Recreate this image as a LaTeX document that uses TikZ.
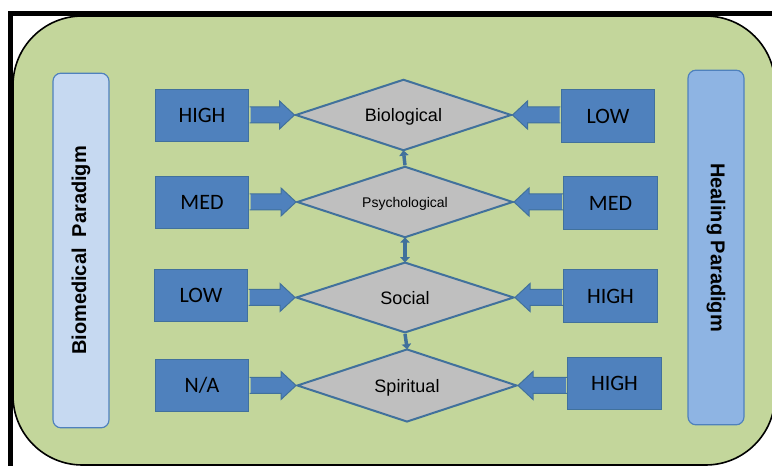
\documentclass[tikz,border=0pt]{standalone}
\usepackage{fontspec}
\setmainfont{Liberation Sans}
\newfontfamily\boxfont{Carlito}
\usepackage{tikz}
\usetikzlibrary{arrows.meta, shapes.geometric, calc}

\definecolor{paneGreen}{HTML}{C3D69B}
\definecolor{boxBlue}{HTML}{4F81BD}
\definecolor{lineBlue}{HTML}{41719C}
\definecolor{stageGray}{HTML}{BFBFBF}
\definecolor{barLight}{HTML}{C6D9F1}
\definecolor{barDark}{HTML}{8EB4E3}

% block arrow from a level box (#1) to the tip of a stage (#2)
\newcommand{\blockarr}[2]{%
  \fill[boxBlue] let \p1=(#1), \p2=(#2), \n1={sign(\x1-\x2)} in
    (\x1-\n1*1pt,\y2+6pt) -- (\x2+\n1*11.25pt,\y2+6pt) -- (\x2+\n1*11.25pt,\y2+10.5pt)
    -- (\x2,\y2) -- (\x2+\n1*11.25pt,\y2-10.5pt) -- (\x2+\n1*11.25pt,\y2-6pt)
    -- (\x1-\n1*1pt,\y2-6pt) -- cycle;
  \draw[barr] let \p1=(#1), \p2=(#2), \n1={sign(\x1-\x2)} in
    (\x1-\n1*0.4pt,\y2+6pt) -- (\x2+\n1*11.25pt,\y2+6pt) -- (\x2+\n1*11.25pt,\y2+10.5pt)
    -- (\x2,\y2) -- (\x2+\n1*11.25pt,\y2-10.5pt) -- (\x2+\n1*11.25pt,\y2-6pt)
    -- (\x1-\n1*0.4pt,\y2-6pt);
}

\begin{document}
\begin{tikzpicture}[
  x=0.75pt, y=-0.75pt,
  lvl/.style      = {draw=lineBlue, fill=boxBlue, line width=0.75pt,
                     minimum width=70pt, minimum height=39.5pt, inner sep=0pt,
                     font=\boxfont\fontsize{16.5}{18}\selectfont},
  stage/.style    = {diamond, aspect=3, draw=lineBlue, fill=stageGray, line width=1.5pt,
                     inner sep=0pt, text depth=0pt, minimum width=162pt, minimum height=53.5pt,
                     font=\fontsize{13.5}{15}\selectfont},
  paradigm/.style = {draw=boxBlue, line width=0.9pt, rounded corners=6pt,
                     minimum width=266pt, minimum height=42pt, inner sep=0pt,
                     font=\bfseries\fontsize{15}{17}\selectfont},
  barr/.style     = {draw=lineBlue, line width=0.75pt, line join=miter},
  link/.style     = {draw=lineBlue, line width=2.6pt,
                     -{Triangle[length=4pt, width=7pt]}, shorten >=-1pt},
]
\useasboundingbox (0,0) rectangle (772,466);

%% frame and green pane
\draw[line width=3.75pt] (10.5,470) |- (780,13.5);
\draw[fill=paneGreen, line width=1.2pt, rounded corners=52pt] (13,16) rectangle (775,465);

%% paradigm bars
\node[paradigm, fill=barLight, rotate=90]  (biomed) at (81,250.5)  {Biomedical\ \ Paradigm};
\node[paradigm, fill=barDark,  rotate=-90] (heal)   at (716,247.5) {Healing Paradigm};

%% stages
\node[stage]                          (bio) at (403.5,115) {Biological};
\node[stage, font=\fontsize{10.5}{12}\selectfont] (psy) at (405,202) {Psychological};
\node[stage, minimum width=163.5pt, minimum height=53pt] (soc) at (405,297.5) {Social};
\node[stage, minimum width=165pt, minimum height=54.75pt] (spi) at (407,385.5) {Spiritual};

%% levels, biomedical side
\node[lvl] (bioL) at (202,115.5) {HIGH};
\node[lvl] (psyL) at (202,202.5) {MED};
\node[lvl] (socL) at (201,295.5) {LOW};
\node[lvl] (spiL) at (202,385.5) {N/A};

%% levels, healing side
\node[lvl] (bioR) at (608,116)   {LOW};
\node[lvl] (psyR) at (610.5,203) {MED};
\node[lvl] (socR) at (610.5,296) {HIGH};
\node[lvl] (spiR) at (614.5,383.5) {HIGH};

%% block arrows into the stages
\blockarr{bioL.east}{bio.west}
\blockarr{psyL.east}{psy.west}
\blockarr{socL.east}{soc.west}
\blockarr{spiL.east}{spi.west}
\blockarr{bioR.west}{bio.east}
\blockarr{psyR.west}{psy.east}
\blockarr{socR.west}{soc.east}
\blockarr{spiR.west}{spi.east}

%% links between stages
\draw[link] (psy.north) -- (bio.south);
\draw[link, {Triangle[length=4pt, width=7pt]}-{Triangle[length=4pt, width=7pt]}, shorten <=-1pt] (psy.south) -- (soc.north);
\draw[link] (soc.south) -- (spi.north);

\end{tikzpicture}
\end{document}
